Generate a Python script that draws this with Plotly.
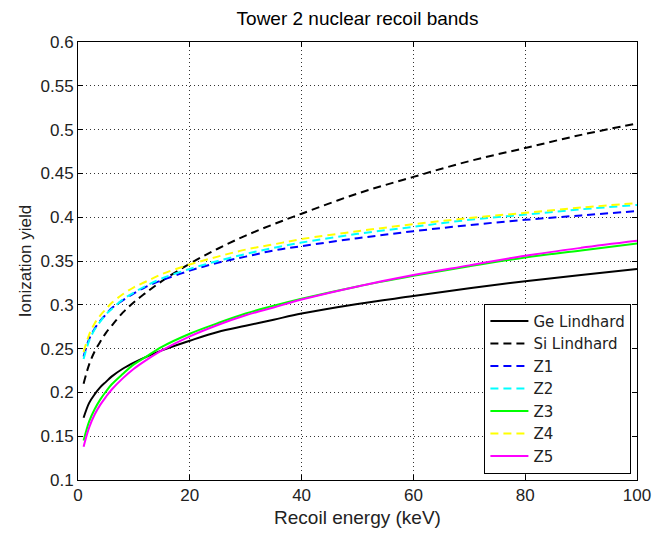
import plotly.graph_objects as go

# Recoil energies (keV) at which the yield curves are sampled
energy = [1, 2, 3, 4, 5, 6, 8, 10, 12, 15, 20, 25, 30, 35, 40, 50, 60, 70, 80, 90, 100]

ge_lindhard = [0.171, 0.188, 0.198, 0.206, 0.212, 0.218, 0.227, 0.234, 0.240, 0.248, 0.259,
               0.269, 0.276, 0.283, 0.290, 0.301, 0.310, 0.319, 0.327, 0.334, 0.341]
si_lindhard = [0.210, 0.232, 0.247, 0.258, 0.268, 0.276, 0.291, 0.303, 0.313, 0.327, 0.347,
               0.364, 0.379, 0.392, 0.404, 0.427, 0.446, 0.464, 0.479, 0.494, 0.507]
z1 = [0.241, 0.261, 0.273, 0.282, 0.289, 0.296, 0.305, 0.313, 0.320, 0.328, 0.339,
      0.348, 0.355, 0.362, 0.367, 0.376, 0.384, 0.391, 0.397, 0.402, 0.407]
z2 = [0.238, 0.259, 0.272, 0.281, 0.289, 0.295, 0.306, 0.314, 0.321, 0.330, 0.341,
      0.350, 0.358, 0.365, 0.371, 0.381, 0.389, 0.397, 0.403, 0.409, 0.414]
z3 = [0.145, 0.167, 0.181, 0.192, 0.201, 0.209, 0.221, 0.232, 0.240, 0.252, 0.267,
      0.279, 0.290, 0.299, 0.307, 0.321, 0.333, 0.344, 0.354, 0.362, 0.370]
z4 = [0.246, 0.266, 0.279, 0.288, 0.295, 0.302, 0.312, 0.320, 0.326, 0.335, 0.346,
      0.355, 0.363, 0.369, 0.375, 0.384, 0.392, 0.399, 0.405, 0.411, 0.416]
z5 = [0.138, 0.160, 0.175, 0.186, 0.195, 0.203, 0.216, 0.227, 0.236, 0.248, 0.264,
      0.277, 0.288, 0.297, 0.306, 0.321, 0.334, 0.345, 0.356, 0.365, 0.373]

series = [
    ("Ge Lindhard", ge_lindhard, "#000000", "solid"),
    ("Si Lindhard", si_lindhard, "#000000", "8px,5px"),
    ("Z1", z1, "#0000ff", "8px,5px"),
    ("Z2", z2, "#00ffff", "8px,5px"),
    ("Z3", z3, "#00ff00", "solid"),
    ("Z4", z4, "#ffff00", "8px,5px"),
    ("Z5", z5, "#ff00ff", "solid"),
]

FONT = "Liberation Sans, Arial, Helvetica, sans-serif"
LEGEND_FONT = "DejaVu Sans, Liberation Sans, sans-serif"

fig = go.Figure()
for name, vals, color, dash in series:
    fig.add_trace(go.Scatter(
        x=energy, y=vals, name=name, mode="lines",
        line=dict(color=color, width=2, dash=dash, shape="spline"),
    ))

axis_common = dict(
    showline=True, linecolor="black", linewidth=1, mirror="ticks",
    ticks="inside", ticklen=5, tickcolor="black",
    showgrid=True, gridcolor="#333333", gridwidth=1, griddash="1px,3px",
    zeroline=False, automargin=False,
    tickfont=dict(family=FONT, size=17, color="#222222"),
)

fig.update_layout(
    width=652, height=535,
    paper_bgcolor="white", plot_bgcolor="white",
    margin=dict(l=78, r=15, t=42, b=55),
    title=dict(text="Tower 2 nuclear recoil bands", xref="paper", x=0.5,
               xanchor="center", y=0.966, yanchor="middle",
               font=dict(family=FONT, size=19, color="black")),
    xaxis=dict(range=[0, 100], dtick=20, tick0=0,
               title=dict(text="Recoil energy (keV)", standoff=6,
                          font=dict(family=FONT, size=19, color="#222222")),
               **axis_common),
    yaxis=dict(range=[0.1, 0.6], dtick=0.05, tick0=0.1,
               title=dict(text="Ionization yield", standoff=4,
                          font=dict(family=FONT, size=17, color="#222222")),
               **axis_common),
    legend=dict(x=0.99, y=0.014, xanchor="right", yanchor="bottom",
                bgcolor="white", bordercolor="black", borderwidth=1,
                font=dict(family=LEGEND_FONT, size=15, color="#222222"),
                itemwidth=38, tracegroupgap=0),
    showlegend=True,
)

fig.write_html("out.html")
